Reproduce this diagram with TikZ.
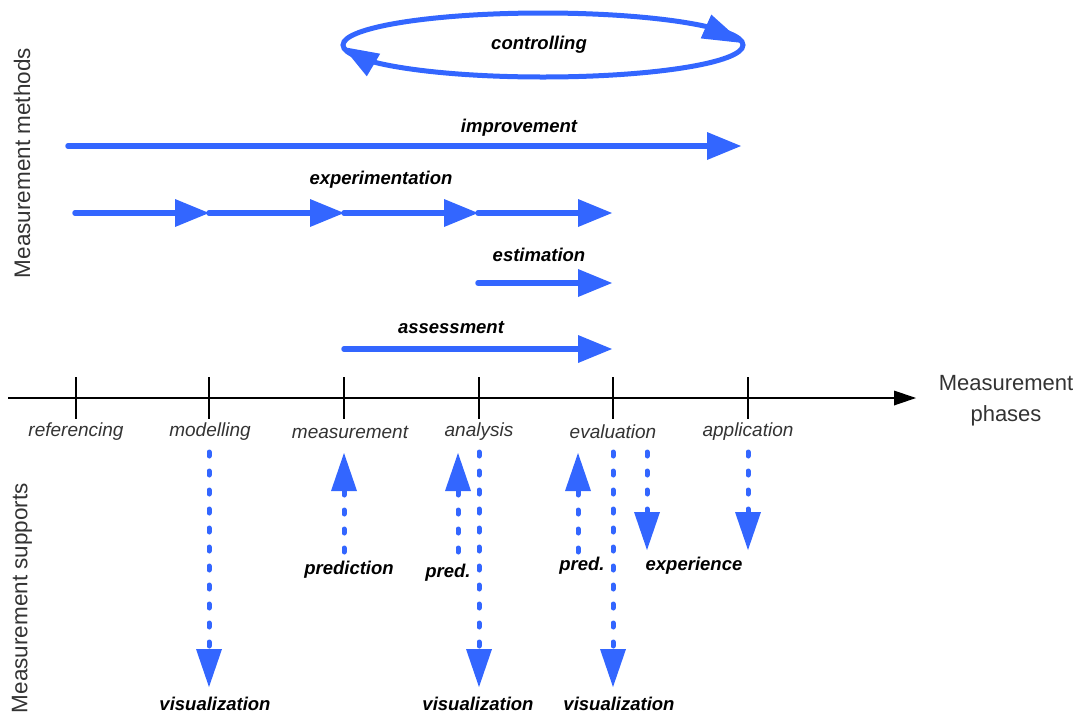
\documentclass[tikz,border=0pt]{standalone}
\usepackage{fontspec}
\setmainfont{Liberation Sans}
\usetikzlibrary{arrows.meta,calc}
\definecolor{mblue}{HTML}{3366FF}
\definecolor{phasegray}{HTML}{333333}
\tikzset{
  method/.style={draw=mblue, line width=5.5pt, line cap=round,
    -{Triangle[length=34pt,width=28pt,line width=0pt]}},
  methodlbl/.style={font=\fontsize{18.5}{18.5}\selectfont\bfseries\itshape, inner sep=0pt},
  support/.style={draw=mblue, line width=5pt, line cap=round,
    dash pattern=on 4pt off 15pt,
    -{Triangle[length=38pt,width=26pt,line width=0pt]}},
  supportlbl/.style={font=\fontsize{18.5}{18.5}\selectfont\bfseries\itshape, inner sep=0pt},
  phaselbl/.style={font=\fontsize{19}{19}\selectfont\itshape, text=phasegray, inner sep=0pt},
  sidelbl/.style={font=\fontsize{22.5}{22.5}\selectfont, text=phasegray, inner sep=0pt, rotate=90},
  tickline/.style={draw=black, line width=2pt},
}
\begin{document}
\begin{tikzpicture}[x=1pt,y=-1pt]
\useasboundingbox (0,0) rectangle (1083,724);

% phase axis and ticks
\coordinate (axS) at (8,398);
\coordinate (axE) at (916,398);
\draw[line width=2pt, -{Triangle[length=22pt,width=15pt,line width=0pt]}] (axS) -- (axE);
\foreach \n/\x in {ref/76, mod/209, mea/344, ana/479, eva/613, app/748}{
  \coordinate (\n) at (\x,398);
  \draw[tickline] (\x,377) -- (\x,419);
}
\node[phaselbl] (lref) at (76,432) {referencing};
\node[phaselbl] (lmod) at (210,432) {modelling};
\node[phaselbl] (lmea) at (350,432) {measurement};
\node[phaselbl] (lana) at (479,432) {analysis};
\node[phaselbl] (leva) at (613,432) {evaluation};
\node[phaselbl] (lapp) at (748,432) {application};
\node[font=\fontsize{22}{31}\selectfont, text=phasegray, align=center, inner sep=0pt]
  (phases) at (1006,401) {Measurement\\phases};

% side captions
\node[sidelbl] (methods) at (22,163) {Measurement methods};
\node[sidelbl] (supports) at (22,598) {Measurement supports};

% controlling loop: ellipse with two heads
\coordinate (cC) at (543,45);
\draw[mblue, line width=5pt] (cC) ellipse[x radius=200, y radius=32];
\fill[mblue] (743,43) -- (711.3,14.6) -- (700.7,38.4) -- cycle;
\fill[mblue] (343,47) -- (380.2,53.7) -- (366.8,76.3) -- cycle;
\node[methodlbl] (ctrl) at (539,45) {controlling};

% improvement
\coordinate (i1) at (68,146);
\coordinate (i2) at (741,146);
\draw[method] (i1) -- (i2);
\node[methodlbl] (impr) at (519,128) {improvement};

% experimentation
\coordinate (e0) at (75,213);
\coordinate (e1) at (209,213);
\coordinate (e2) at (344,213);
\coordinate (e3) at (478,213);
\coordinate (e4) at (612,213);
\draw[method] (e0) -- (e1);
\draw[method] (e1) -- (e2);
\draw[method] (e2) -- (e3);
\draw[method] (e3) -- (e4);
\node[methodlbl] (expe) at (381,180) {experimentation};

% estimation
\coordinate (s1) at (478,283);
\coordinate (s2) at (612,283);
\draw[method] (s1) -- (s2);
\node[methodlbl] (esti) at (539,255) {estimation};

% assessment
\coordinate (a1) at (344,349);
\coordinate (a2) at (612,349);
\draw[method] (a1) -- (a2);
\node[methodlbl] (asse) at (451,328) {assessment};

% supports
\node[supportlbl] (vis1) at (215,704) {visualization};
\node[supportlbl] (vis2) at (478,704) {visualization};
\node[supportlbl] (vis3) at (619,704) {visualization};
\node[supportlbl] (pred0) at (349,570) {prediction};
\node[supportlbl] (pred1) at (448,573) {pred.};
\node[supportlbl] (pred2) at (582,566) {pred.};
\node[supportlbl] (expr) at (694,566) {experience};

\coordinate (v1s) at (209,452);  \coordinate (v1e) at (209,687);
\coordinate (v2s) at (479,452);  \coordinate (v2e) at (479,687);
\coordinate (v3s) at (613,452);  \coordinate (v3e) at (613,687);
\coordinate (p0s) at (344,552);  \coordinate (p0e) at (344,453);
\coordinate (p1s) at (458,552);  \coordinate (p1e) at (458,453);
\coordinate (p2s) at (578,552);  \coordinate (p2e) at (578,453);
\coordinate (x1s) at (647,452);  \coordinate (x1e) at (647,550);
\coordinate (x2s) at (748,452);  \coordinate (x2e) at (748,550);

\draw[support] (v1s) -- (v1e);
\draw[support] (v2s) -- (v2e);
\draw[support] (v3s) -- (v3e);
\draw[support] (p0s) -- (p0e);
\draw[support] (p1s) -- (p1e);
\draw[support] (p2s) -- (p2e);
\draw[support] (x1s) -- (x1e);
\draw[support] (x2s) -- (x2e);
\end{tikzpicture}
\end{document}
